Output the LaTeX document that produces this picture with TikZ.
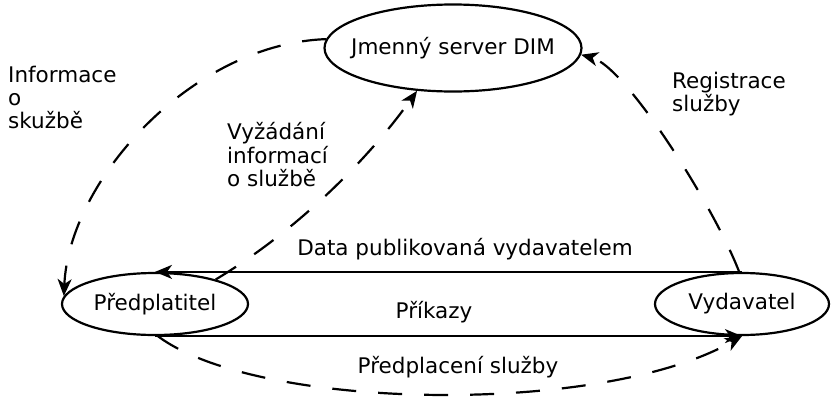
\documentclass[tikz,border=0pt]{standalone}
\usepackage{fontspec}
\setmainfont{DejaVu Sans}
\usetikzlibrary{arrows.meta,shapes.geometric}

\begin{document}
\begin{tikzpicture}[x=1pt, y=-1pt, font=\fontsize{21.5}{23.3}\selectfont,
  uzel/.style={draw, ellipse, black, line width=2.2pt, inner sep=0pt},
  spoj/.style={black, line width=2.2pt, -{Stealth[length=17pt,width=14pt,inset=5pt]}},
  carka/.style={dash pattern=on 24pt off 22pt},
  popis/.style={align=left, inner sep=0pt}]
  \useasboundingbox (0,0) rectangle (831,397);

  \node [uzel, minimum width=257, minimum height=87] (server) at (453,48) {\makebox[0pt]{Jmenný server DIM}};
  \node [uzel, minimum width=186, minimum height=62] (predplatitel) at (155,304) {\makebox[0pt]{Předplatitel}};
  \node [uzel, minimum width=174, minimum height=62] (vydavatel) at (742,304) {\makebox[0pt]{Vydavatel}};

  \draw [spoj] (vydavatel.north) -- (predplatitel.north);
  \draw [spoj] (predplatitel.south) -- (vydavatel.south);
  \draw [spoj, carka] (server.176) .. controls +(-135,5) and +(5,-115) .. (predplatitel.175);
  \draw [spoj, carka] (predplatitel.22) .. controls +(80,-48) and +(-50,70) .. (server.230);
  \draw [spoj, carka] (vydavatel.95) .. controls +(-25,-65) and +(45,12) .. (server.-3);
  \draw [spoj, carka] (predplatitel.-85) .. controls +(100,75) and +(-140,80) .. (vydavatel.south);

  \node [popis, anchor=north west] (info) at (8,65.7) {Informace\\o\\skužbě};
  \node [popis, anchor=north west] (vyzadani) at (227,122.5) {Vyžádání\\informací\\o službě};
  \node [popis, anchor=north west] (registrace) at (672,71.7) {Registrace\\služby};
  \node [anchor=base] (data) at (465,255) {Data publikovaná vydavatelem};
  \node [anchor=base] (prikazy) at (434,318) {Příkazy};
  \node [anchor=base] (predplaceni) at (458,373) {Předplacení služby};
\end{tikzpicture}
\end{document}
